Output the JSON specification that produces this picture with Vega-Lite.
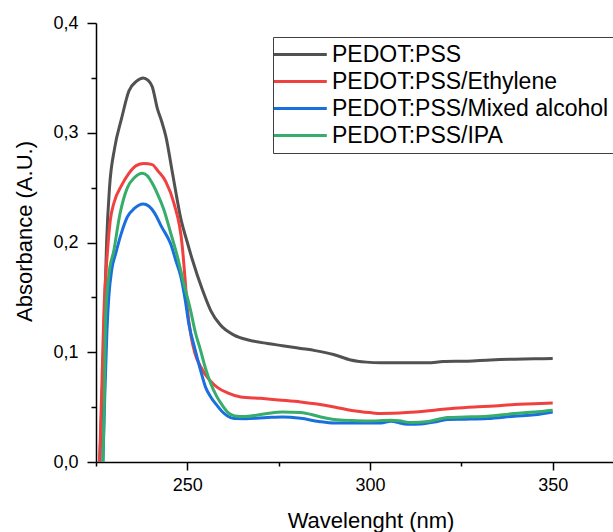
{
  "$schema": "https://vega.github.io/schema/vega-lite/v6.json",
  "autosize": {"type": "none"},
  "width": 517,
  "height": 439,
  "padding": {"left": 96, "top": 23, "right": 0, "bottom": 70},
  "background": "white",
  "config": {
    "view": {"stroke": null},
    "font": "Liberation Sans"
  },
  "data": {
    "values": [
      {"s": "PEDOT:PSS", "wl": 226.0, "a": 0.0},
      {"s": "PEDOT:PSS", "wl": 226.7, "a": 0.06},
      {"s": "PEDOT:PSS", "wl": 227.3, "a": 0.13},
      {"s": "PEDOT:PSS", "wl": 227.9, "a": 0.20},
      {"s": "PEDOT:PSS", "wl": 228.7, "a": 0.25},
      {"s": "PEDOT:PSS", "wl": 230.1, "a": 0.286},
      {"s": "PEDOT:PSS", "wl": 232.0, "a": 0.313},
      {"s": "PEDOT:PSS", "wl": 234.0, "a": 0.338},
      {"s": "PEDOT:PSS", "wl": 236.1, "a": 0.347},
      {"s": "PEDOT:PSS", "wl": 237.9, "a": 0.350},
      {"s": "PEDOT:PSS", "wl": 239.2, "a": 0.348},
      {"s": "PEDOT:PSS", "wl": 240.4, "a": 0.342},
      {"s": "PEDOT:PSS", "wl": 241.8, "a": 0.322},
      {"s": "PEDOT:PSS", "wl": 243.0, "a": 0.310},
      {"s": "PEDOT:PSS", "wl": 244.1, "a": 0.297},
      {"s": "PEDOT:PSS", "wl": 246.0, "a": 0.262},
      {"s": "PEDOT:PSS", "wl": 248.2, "a": 0.222},
      {"s": "PEDOT:PSS", "wl": 250.0, "a": 0.200},
      {"s": "PEDOT:PSS", "wl": 251.4, "a": 0.184},
      {"s": "PEDOT:PSS", "wl": 254.0, "a": 0.158},
      {"s": "PEDOT:PSS", "wl": 256.4, "a": 0.138},
      {"s": "PEDOT:PSS", "wl": 259.0, "a": 0.125},
      {"s": "PEDOT:PSS", "wl": 262.8, "a": 0.1156},
      {"s": "PEDOT:PSS", "wl": 267.0, "a": 0.111},
      {"s": "PEDOT:PSS", "wl": 271.9, "a": 0.108},
      {"s": "PEDOT:PSS", "wl": 276.0, "a": 0.106},
      {"s": "PEDOT:PSS", "wl": 281.0, "a": 0.1035},
      {"s": "PEDOT:PSS", "wl": 285.0, "a": 0.1015},
      {"s": "PEDOT:PSS", "wl": 290.0, "a": 0.098},
      {"s": "PEDOT:PSS", "wl": 294.7, "a": 0.093},
      {"s": "PEDOT:PSS", "wl": 299.0, "a": 0.091},
      {"s": "PEDOT:PSS", "wl": 303.0, "a": 0.0904},
      {"s": "PEDOT:PSS", "wl": 310.0, "a": 0.0905},
      {"s": "PEDOT:PSS", "wl": 315.8, "a": 0.0904},
      {"s": "PEDOT:PSS", "wl": 320.0, "a": 0.0915},
      {"s": "PEDOT:PSS", "wl": 326.7, "a": 0.0919},
      {"s": "PEDOT:PSS", "wl": 333.0, "a": 0.093},
      {"s": "PEDOT:PSS", "wl": 339.5, "a": 0.0937},
      {"s": "PEDOT:PSS", "wl": 345.0, "a": 0.094},
      {"s": "PEDOT:PSS", "wl": 350.0, "a": 0.0943},

      {"s": "PEDOT:PSS/Ethylene", "wl": 226.0, "a": 0.0},
      {"s": "PEDOT:PSS/Ethylene", "wl": 226.6, "a": 0.07},
      {"s": "PEDOT:PSS/Ethylene", "wl": 227.2, "a": 0.14},
      {"s": "PEDOT:PSS/Ethylene", "wl": 228.1, "a": 0.19},
      {"s": "PEDOT:PSS/Ethylene", "wl": 228.9, "a": 0.22},
      {"s": "PEDOT:PSS/Ethylene", "wl": 229.9, "a": 0.236},
      {"s": "PEDOT:PSS/Ethylene", "wl": 232.0, "a": 0.252},
      {"s": "PEDOT:PSS/Ethylene", "wl": 234.0, "a": 0.263},
      {"s": "PEDOT:PSS/Ethylene", "wl": 236.0, "a": 0.270},
      {"s": "PEDOT:PSS/Ethylene", "wl": 238.1, "a": 0.272},
      {"s": "PEDOT:PSS/Ethylene", "wl": 240.4, "a": 0.271},
      {"s": "PEDOT:PSS/Ethylene", "wl": 242.0, "a": 0.265},
      {"s": "PEDOT:PSS/Ethylene", "wl": 244.1, "a": 0.2555},
      {"s": "PEDOT:PSS/Ethylene", "wl": 246.3, "a": 0.236},
      {"s": "PEDOT:PSS/Ethylene", "wl": 248.6, "a": 0.197},
      {"s": "PEDOT:PSS/Ethylene", "wl": 249.3, "a": 0.170},
      {"s": "PEDOT:PSS/Ethylene", "wl": 250.0, "a": 0.140},
      {"s": "PEDOT:PSS/Ethylene", "wl": 251.0, "a": 0.115},
      {"s": "PEDOT:PSS/Ethylene", "wl": 252.0, "a": 0.100},
      {"s": "PEDOT:PSS/Ethylene", "wl": 253.6, "a": 0.087},
      {"s": "PEDOT:PSS/Ethylene", "wl": 256.0, "a": 0.075},
      {"s": "PEDOT:PSS/Ethylene", "wl": 258.2, "a": 0.068},
      {"s": "PEDOT:PSS/Ethylene", "wl": 261.0, "a": 0.063},
      {"s": "PEDOT:PSS/Ethylene", "wl": 264.6, "a": 0.0593},
      {"s": "PEDOT:PSS/Ethylene", "wl": 270.0, "a": 0.058},
      {"s": "PEDOT:PSS/Ethylene", "wl": 275.0, "a": 0.0565},
      {"s": "PEDOT:PSS/Ethylene", "wl": 281.0, "a": 0.0547},
      {"s": "PEDOT:PSS/Ethylene", "wl": 285.0, "a": 0.053},
      {"s": "PEDOT:PSS/Ethylene", "wl": 290.2, "a": 0.0502},
      {"s": "PEDOT:PSS/Ethylene", "wl": 295.0, "a": 0.047},
      {"s": "PEDOT:PSS/Ethylene", "wl": 300.0, "a": 0.045},
      {"s": "PEDOT:PSS/Ethylene", "wl": 303.0, "a": 0.0442},
      {"s": "PEDOT:PSS/Ethylene", "wl": 310.0, "a": 0.045},
      {"s": "PEDOT:PSS/Ethylene", "wl": 317.6, "a": 0.0472},
      {"s": "PEDOT:PSS/Ethylene", "wl": 323.0, "a": 0.049},
      {"s": "PEDOT:PSS/Ethylene", "wl": 328.5, "a": 0.0502},
      {"s": "PEDOT:PSS/Ethylene", "wl": 334.0, "a": 0.051},
      {"s": "PEDOT:PSS/Ethylene", "wl": 339.5, "a": 0.0524},
      {"s": "PEDOT:PSS/Ethylene", "wl": 345.0, "a": 0.053},
      {"s": "PEDOT:PSS/Ethylene", "wl": 350.0, "a": 0.0538},

      {"s": "PEDOT:PSS/Mixed alcohol", "wl": 226.9, "a": 0.0},
      {"s": "PEDOT:PSS/Mixed alcohol", "wl": 227.4, "a": 0.06},
      {"s": "PEDOT:PSS/Mixed alcohol", "wl": 228.0, "a": 0.12},
      {"s": "PEDOT:PSS/Mixed alcohol", "wl": 228.5, "a": 0.150},
      {"s": "PEDOT:PSS/Mixed alcohol", "wl": 229.3, "a": 0.175},
      {"s": "PEDOT:PSS/Mixed alcohol", "wl": 230.4, "a": 0.190},
      {"s": "PEDOT:PSS/Mixed alcohol", "wl": 231.8, "a": 0.207},
      {"s": "PEDOT:PSS/Mixed alcohol", "wl": 233.6, "a": 0.2235},
      {"s": "PEDOT:PSS/Mixed alcohol", "wl": 235.5, "a": 0.231},
      {"s": "PEDOT:PSS/Mixed alcohol", "wl": 237.9, "a": 0.235},
      {"s": "PEDOT:PSS/Mixed alcohol", "wl": 239.5, "a": 0.233},
      {"s": "PEDOT:PSS/Mixed alcohol", "wl": 241.0, "a": 0.227},
      {"s": "PEDOT:PSS/Mixed alcohol", "wl": 243.0, "a": 0.214},
      {"s": "PEDOT:PSS/Mixed alcohol", "wl": 245.4, "a": 0.199},
      {"s": "PEDOT:PSS/Mixed alcohol", "wl": 247.0, "a": 0.182},
      {"s": "PEDOT:PSS/Mixed alcohol", "wl": 248.2, "a": 0.169},
      {"s": "PEDOT:PSS/Mixed alcohol", "wl": 249.4, "a": 0.148},
      {"s": "PEDOT:PSS/Mixed alcohol", "wl": 250.4, "a": 0.126},
      {"s": "PEDOT:PSS/Mixed alcohol", "wl": 252.0, "a": 0.104},
      {"s": "PEDOT:PSS/Mixed alcohol", "wl": 253.6, "a": 0.0837},
      {"s": "PEDOT:PSS/Mixed alcohol", "wl": 255.0, "a": 0.068},
      {"s": "PEDOT:PSS/Mixed alcohol", "wl": 256.4, "a": 0.0593},
      {"s": "PEDOT:PSS/Mixed alcohol", "wl": 258.0, "a": 0.052},
      {"s": "PEDOT:PSS/Mixed alcohol", "wl": 259.5, "a": 0.046},
      {"s": "PEDOT:PSS/Mixed alcohol", "wl": 261.0, "a": 0.042},
      {"s": "PEDOT:PSS/Mixed alcohol", "wl": 262.8, "a": 0.0396},
      {"s": "PEDOT:PSS/Mixed alcohol", "wl": 266.0, "a": 0.0395},
      {"s": "PEDOT:PSS/Mixed alcohol", "wl": 271.9, "a": 0.0405},
      {"s": "PEDOT:PSS/Mixed alcohol", "wl": 276.0, "a": 0.041},
      {"s": "PEDOT:PSS/Mixed alcohol", "wl": 281.0, "a": 0.0398},
      {"s": "PEDOT:PSS/Mixed alcohol", "wl": 286.0, "a": 0.037},
      {"s": "PEDOT:PSS/Mixed alcohol", "wl": 290.2, "a": 0.0356},
      {"s": "PEDOT:PSS/Mixed alcohol", "wl": 296.0, "a": 0.0355},
      {"s": "PEDOT:PSS/Mixed alcohol", "wl": 303.0, "a": 0.0356},
      {"s": "PEDOT:PSS/Mixed alcohol", "wl": 305.7, "a": 0.0372},
      {"s": "PEDOT:PSS/Mixed alcohol", "wl": 307.0, "a": 0.0365},
      {"s": "PEDOT:PSS/Mixed alcohol", "wl": 310.3, "a": 0.0344},
      {"s": "PEDOT:PSS/Mixed alcohol", "wl": 314.0, "a": 0.0347},
      {"s": "PEDOT:PSS/Mixed alcohol", "wl": 317.6, "a": 0.0365},
      {"s": "PEDOT:PSS/Mixed alcohol", "wl": 321.2, "a": 0.0387},
      {"s": "PEDOT:PSS/Mixed alcohol", "wl": 326.0, "a": 0.039},
      {"s": "PEDOT:PSS/Mixed alcohol", "wl": 332.2, "a": 0.0396},
      {"s": "PEDOT:PSS/Mixed alcohol", "wl": 339.5, "a": 0.0417},
      {"s": "PEDOT:PSS/Mixed alcohol", "wl": 345.0, "a": 0.043},
      {"s": "PEDOT:PSS/Mixed alcohol", "wl": 350.0, "a": 0.0456},

      {"s": "PEDOT:PSS/IPA", "wl": 226.9, "a": 0.0},
      {"s": "PEDOT:PSS/IPA", "wl": 227.3, "a": 0.06},
      {"s": "PEDOT:PSS/IPA", "wl": 227.6, "a": 0.13},
      {"s": "PEDOT:PSS/IPA", "wl": 228.5, "a": 0.17},
      {"s": "PEDOT:PSS/IPA", "wl": 229.9, "a": 0.193},
      {"s": "PEDOT:PSS/IPA", "wl": 231.5, "a": 0.225},
      {"s": "PEDOT:PSS/IPA", "wl": 233.6, "a": 0.250},
      {"s": "PEDOT:PSS/IPA", "wl": 235.5, "a": 0.259},
      {"s": "PEDOT:PSS/IPA", "wl": 237.7, "a": 0.263},
      {"s": "PEDOT:PSS/IPA", "wl": 239.0, "a": 0.261},
      {"s": "PEDOT:PSS/IPA", "wl": 240.4, "a": 0.254},
      {"s": "PEDOT:PSS/IPA", "wl": 242.0, "a": 0.243},
      {"s": "PEDOT:PSS/IPA", "wl": 243.6, "a": 0.2297},
      {"s": "PEDOT:PSS/IPA", "wl": 245.5, "a": 0.208},
      {"s": "PEDOT:PSS/IPA", "wl": 247.3, "a": 0.187},
      {"s": "PEDOT:PSS/IPA", "wl": 249.0, "a": 0.163},
      {"s": "PEDOT:PSS/IPA", "wl": 250.9, "a": 0.138},
      {"s": "PEDOT:PSS/IPA", "wl": 252.2, "a": 0.118},
      {"s": "PEDOT:PSS/IPA", "wl": 253.6, "a": 0.102},
      {"s": "PEDOT:PSS/IPA", "wl": 255.0, "a": 0.085},
      {"s": "PEDOT:PSS/IPA", "wl": 256.4, "a": 0.0715},
      {"s": "PEDOT:PSS/IPA", "wl": 258.0, "a": 0.060},
      {"s": "PEDOT:PSS/IPA", "wl": 259.5, "a": 0.052},
      {"s": "PEDOT:PSS/IPA", "wl": 261.0, "a": 0.0455},
      {"s": "PEDOT:PSS/IPA", "wl": 263.0, "a": 0.042},
      {"s": "PEDOT:PSS/IPA", "wl": 266.0, "a": 0.0415},
      {"s": "PEDOT:PSS/IPA", "wl": 271.9, "a": 0.0442},
      {"s": "PEDOT:PSS/IPA", "wl": 276.0, "a": 0.0455},
      {"s": "PEDOT:PSS/IPA", "wl": 281.0, "a": 0.0452},
      {"s": "PEDOT:PSS/IPA", "wl": 286.0, "a": 0.0415},
      {"s": "PEDOT:PSS/IPA", "wl": 290.2, "a": 0.0387},
      {"s": "PEDOT:PSS/IPA", "wl": 295.0, "a": 0.0378},
      {"s": "PEDOT:PSS/IPA", "wl": 299.3, "a": 0.0374},
      {"s": "PEDOT:PSS/IPA", "wl": 305.7, "a": 0.038},
      {"s": "PEDOT:PSS/IPA", "wl": 308.0, "a": 0.0375},
      {"s": "PEDOT:PSS/IPA", "wl": 311.2, "a": 0.036},
      {"s": "PEDOT:PSS/IPA", "wl": 316.0, "a": 0.037},
      {"s": "PEDOT:PSS/IPA", "wl": 321.2, "a": 0.0405},
      {"s": "PEDOT:PSS/IPA", "wl": 326.0, "a": 0.041},
      {"s": "PEDOT:PSS/IPA", "wl": 332.2, "a": 0.0417},
      {"s": "PEDOT:PSS/IPA", "wl": 339.5, "a": 0.0442},
      {"s": "PEDOT:PSS/IPA", "wl": 345.0, "a": 0.0455},
      {"s": "PEDOT:PSS/IPA", "wl": 350.0, "a": 0.0472}
    ]
  },
  "mark": {"type": "line", "strokeWidth": 3, "interpolate": "monotone", "clip": true},
  "encoding": {
    "x": {
      "field": "wl", "type": "quantitative",
      "scale": {"domain": [225, 366.5], "nice": false, "zero": false},
      "axis": {
        "title": "Wavelenght (nm)",
        "titleFontSize": 22, "titleFontWeight": "normal", "titleColor": "black",
        "titleX": 274.5, "titleY": 65, "titleBaseline": "alphabetic", "titleAlign": "center",
        "values": [225, 250, 275, 300, 325, 350],
        "labelExpr": "datum.value % 50 == 0 ? format(datum.value, 'd') : ''",
        "labelFontSize": 18, "labelColor": "black", "labelPadding": 6,
        "labelFlush": false, "labelOverlap": false,
        "tickSize": {"condition": {"test": "datum.value % 50 == 0", "value": 8}, "value": 4},
        "tickColor": "black", "tickWidth": 1.5,
        "domainColor": "black", "domainWidth": 1.5,
        "grid": false
      }
    },
    "y": {
      "field": "a", "type": "quantitative",
      "scale": {"domain": [0, 0.4], "nice": false},
      "axis": {
        "title": "Absorbance (A.U.)",
        "titleFontSize": 22, "titleFontWeight": "normal", "titleColor": "black",
        "titleX": -72, "titleY": 208, "titleAlign": "center", "titleBaseline": "middle",
        "values": [0, 0.05, 0.1, 0.15, 0.2, 0.25, 0.3, 0.35, 0.4],
        "labelExpr": "abs(round(datum.value * 10) - datum.value * 10) < 0.01 ? replace(format(datum.value, '.1f'), '.', ',') : ''",
        "labelFontSize": 18, "labelColor": "black", "labelPadding": 9,
        "labelFlush": false, "labelOverlap": false,
        "tickSize": {"condition": {"test": "abs(round(datum.value * 10) - datum.value * 10) < 0.01", "value": 9}, "value": 5},
        "tickColor": "black", "tickWidth": 1.5,
        "domainColor": "black", "domainWidth": 1.5,
        "grid": false
      }
    },
    "color": {
      "field": "s", "type": "nominal",
      "scale": {
        "domain": ["PEDOT:PSS", "PEDOT:PSS/Ethylene", "PEDOT:PSS/Mixed alcohol", "PEDOT:PSS/IPA"],
        "range": ["#515151", "#F14040", "#1A6FDF", "#37AD6B"]
      },
      "legend": {
        "title": null,
        "orient": "none",
        "legendX": 177,
        "legendY": 14,
        "strokeColor": "#404040",
        "fillColor": "white",
        "padding": 5,
        "labelFontSize": 23,
        "labelColor": "black",
        "labelLimit": 500,
        "labelOffset": 29,
        "rowPadding": 2,
        "symbolType": "M-1.5,0H3.3",
        "symbolSize": 484,
        "symbolStrokeWidth": 3
      }
    }
  }
}
